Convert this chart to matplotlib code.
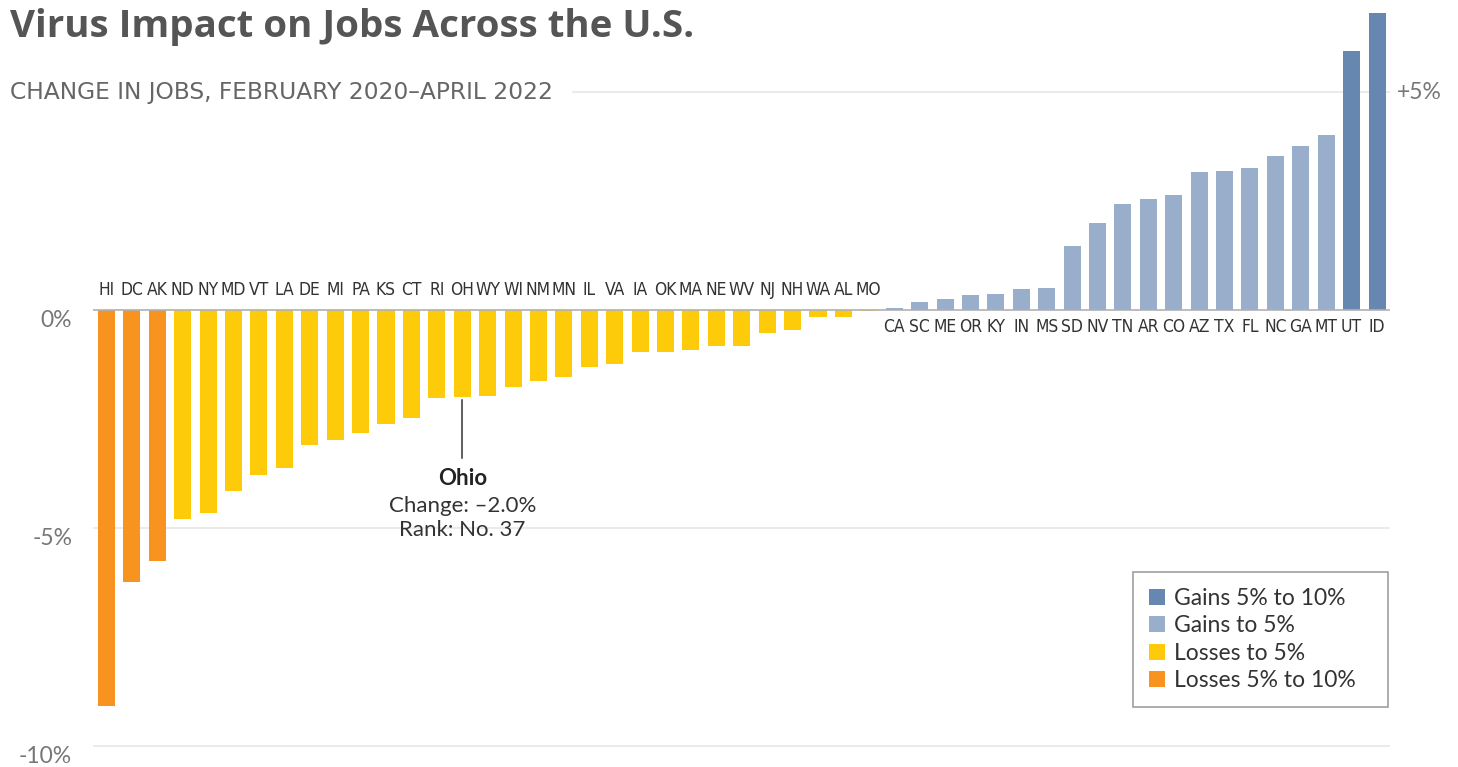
import matplotlib
matplotlib.use("Agg")
import matplotlib.pyplot as plt
from matplotlib.patches import Patch
from matplotlib import font_manager as fm
import numpy as np

# job change Feb 2020 - Apr 2022, percent, sorted ascending
states = ["HI", "DC", "AK", "ND", "NY", "MD", "VT", "LA", "DE", "MI", "PA", "KS",
          "CT", "RI", "OH", "WY", "WI", "NM", "MN", "IL", "VA", "IA", "OK", "MA",
          "NE", "WV", "NJ", "NH", "WA", "AL", "MO",
          "CA", "SC", "ME", "OR", "KY", "IN", "MS", "SD", "NV", "TN", "AR", "CO",
          "AZ", "TX", "FL", "NC", "GA", "MT", "UT", "ID"]
change = [-9.1, -6.25, -5.77, -4.8, -4.67, -4.16, -3.79, -3.63, -3.09, -2.98, -2.82, -2.62,
          -2.47, -2.03, -2.0, -1.98, -1.77, -1.63, -1.53, -1.30, -1.25, -0.96, -0.96, -0.91,
          -0.82, -0.82, -0.52, -0.47, -0.15, -0.15, -0.03,
          0.05, 0.18, 0.25, 0.34, 0.37, 0.48, 0.5, 1.47, 2.0, 2.43, 2.55, 2.64,
          3.17, 3.19, 3.26, 3.53, 3.76, 4.02, 5.94, 6.82]

highlight = "OH"
highlight_name = "Ohio"

grid_vals = [-10, -5, 5]
left_ticks = [0, -5, -10]
left_tick_labels = ["0%", "-5%", "-10%"]

cat_labels = ["Gains 5% to 10%", "Gains to 5%", "Losses to 5%", "Losses 5% to 10%"]
cat_colors = ["#6587b0", "#99aecb", "#fecb0a", "#f7931e"]


def bar_color(v):
    if v >= 5:
        return cat_colors[0]
    if v >= 0:
        return cat_colors[1]
    if v > -5:
        return cat_colors[2]
    return cat_colors[3]


def narrow_font():
    # look for any condensed / narrow face that happens to be installed
    best = None
    for f in fm.fontManager.ttflist:
        fn = f.fname.lower()
        if f.style != "normal" or f.weight not in (400, "normal", "regular"):
            continue
        if "narrow" in fn or "condensed" in fn:
            if "liberation" in fn:
                return fm.FontProperties(fname=f.fname), 14
            best = best or f
    if best is not None:
        return fm.FontProperties(fname=best.fname), 12.5
    return fm.FontProperties(family="Roboto"), 13.5


label_fp, label_size = narrow_font()
label_fp.set_size(label_size)
lato = ["Lato", "DejaVu Sans"]

fig = plt.figure(figsize=(14.58, 7.67), dpi=100)
ax = fig.add_axes([93 / 1458, (767 - 763.1) / 767, 1297 / 1458, 758.1 / 767])

x = np.arange(len(states))
vals = np.array(change)
ax.bar(x, vals, width=0.67, color=[bar_color(v) for v in vals], zorder=2)

ax.set_xlim(-0.53, len(states) - 0.49)
ax.set_ylim(-10.4, 7.0)
ax.axis("off")

for g in grid_vals:
    xmin = 0.37 if g > 0 else 0.0
    ax.axhline(g, xmin=xmin, xmax=1, color="#e6e6e6", lw=1.1, zorder=0)
ax.axhline(0, color="#b0b0b0", lw=1.2, zorder=3)

for v, lab in zip(left_ticks, left_tick_labels):
    ax.annotate(lab, xy=(0, v), xycoords=("axes fraction", "data"),
                xytext=(-15, -7.5), textcoords="offset points",
                ha="right", va="center", fontsize=16.5, color="#777777", family=lato)
ax.annotate("+5%", xy=(1, 5), xycoords=("axes fraction", "data"),
            xytext=(5, 0), textcoords="offset points",
            ha="left", va="center", fontsize=16.5, color="#777777", family=lato)

for xi, v, s in zip(x, vals, states):
    dy = 14.5 if v < 0 else -12.5
    ax.annotate(s, xy=(xi, 0), xytext=(0, dy), textcoords="offset points",
                ha="center", va="center", color="#333333", fontproperties=label_fp)

# callout for the highlighted state
hi = states.index(highlight)
hv = vals[hi]
rank = int((vals > hv).sum()) + 1
ax.plot([hi, hi], [hv - 0.07, hv - 1.4], color="#333333", lw=1.1, zorder=3)
ax.annotate(highlight_name, xy=(hi, hv - 1.4), xytext=(0, -15), textcoords="offset points",
            ha="center", va="center", fontsize=16, fontweight="bold", color="#222222", family=lato)
ax.annotate(f"Change: \u2013{abs(hv):.1f}%", xy=(hi, hv - 1.4), xytext=(0, -34.5),
            textcoords="offset points", ha="center", va="center",
            fontsize=16, color="#333333", family=lato)
ax.annotate(f"Rank: No. {rank}", xy=(hi, hv - 1.4), xytext=(0, -52),
            textcoords="offset points", ha="center", va="center",
            fontsize=16, color="#333333", family=lato)

handles = [Patch(facecolor=c, edgecolor="none") for c in cat_colors]
leg = fig.legend(handles, cat_labels, loc="upper left",
                 bbox_to_anchor=(1133 / 1458, 1 - 572 / 767 - 0.01, 255 / 1458, 0.01),
                 mode="expand", frameon=True, fancybox=False, edgecolor="#888888",
                 prop={"family": lato, "size": 16.5}, handlelength=0.7, handleheight=0.7,
                 handletextpad=0.4, labelspacing=0.28, borderpad=0.7, borderaxespad=0)
leg.get_frame().set_linewidth(1.2)
for t in leg.get_texts():
    t.set_color("#333333")

fig.text(10 / 1458, 1 - 27 / 767, "Virus Impact on Jobs Across the U.S.",
         ha="left", va="center", fontsize=27.7, fontweight="bold", color="#555555",
         family=["Open Sans", "DejaVu Sans"])
fig.text(10 / 1458, 1 - 92 / 767, "CHANGE IN JOBS, FEBRUARY 2020\u2013APRIL 2022",
         ha="left", va="center", fontsize=16.8, color="#666666", family="DejaVu Sans")

fig.savefig("out.png", dpi=100)
